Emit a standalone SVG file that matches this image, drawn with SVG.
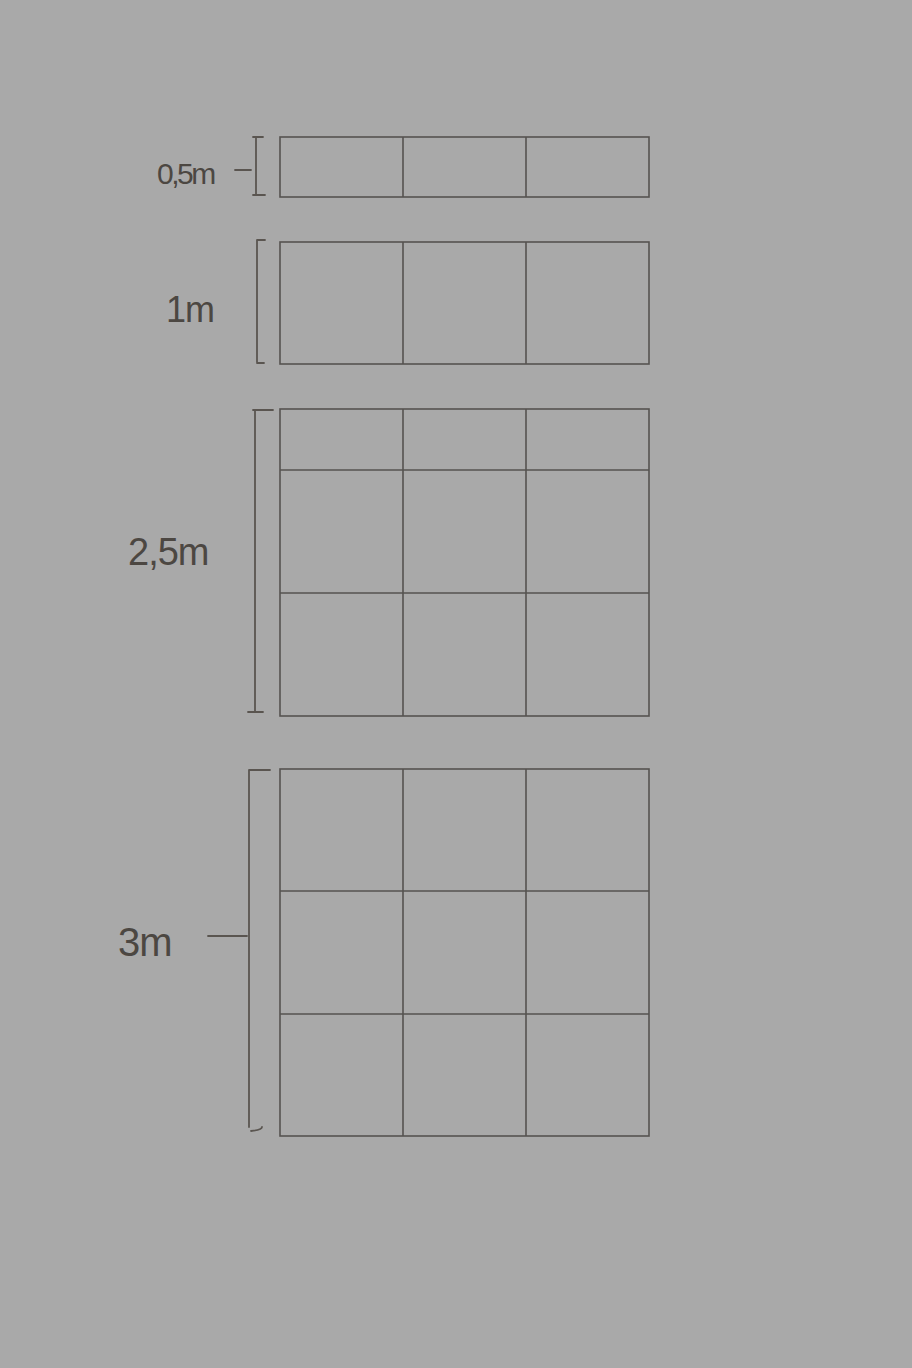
<svg xmlns="http://www.w3.org/2000/svg" width="912" height="1368" viewBox="0 0 912 1368">
<style>
.g{fill:none;stroke:#565350;stroke-width:1.6}
.b{fill:none;stroke:#5a5550;stroke-width:1.8;stroke-linecap:round}
.t{font-family:"Liberation Sans",Arial,sans-serif;fill:#4c4742;font-weight:normal;letter-spacing:-1px}
</style>
<rect width="912" height="1368" fill="#a9a9a9"/>
<g id="grid-05">
<rect class="g" x="280" y="137" width="369" height="60"/>
<path class="g" d="M403 137V197M526 137V197"/>
</g>
<g id="grid-1">
<rect class="g" x="280" y="242" width="369" height="122"/>
<path class="g" d="M403 242V364M526 242V364"/>
</g>
<g id="grid-25">
<rect class="g" x="280" y="409" width="369" height="307"/>
<path class="g" d="M403 409V716M526 409V716M280 470H649M280 593H649"/>
</g>
<g id="grid-3">
<rect class="g" x="280" y="769" width="369" height="367"/>
<path class="g" d="M403 769V1136M526 769V1136M280 891H649M280 1014H649"/>
</g>
<g id="dimensions">
<g id="dim-05">
<path class="b" d="M253 137H263M256 137V195M253 195H265M235 170H251"/>
<text class="t" x="157" y="184" font-size="30" style="letter-spacing:-2.5px">0,5m</text>
</g>
<g id="dim-1">
<path class="b" d="M257 240H265M257 240V362M257 363H264"/>
<text class="t" x="166" y="322" font-size="36">1m</text>
</g>
<g id="dim-25">
<path class="b" d="M253 410H273M255 410V712M248 712H263"/>
<text class="t" x="128" y="565" font-size="38">2,5m</text>
</g>
<g id="dim-3">
<path class="b" d="M249 770H270M249 770V1127M251 1131Q262 1130 262 1127M208 936H247"/>
<text class="t" x="118" y="956" font-size="40">3m</text>
</g>
</g>
</svg>
